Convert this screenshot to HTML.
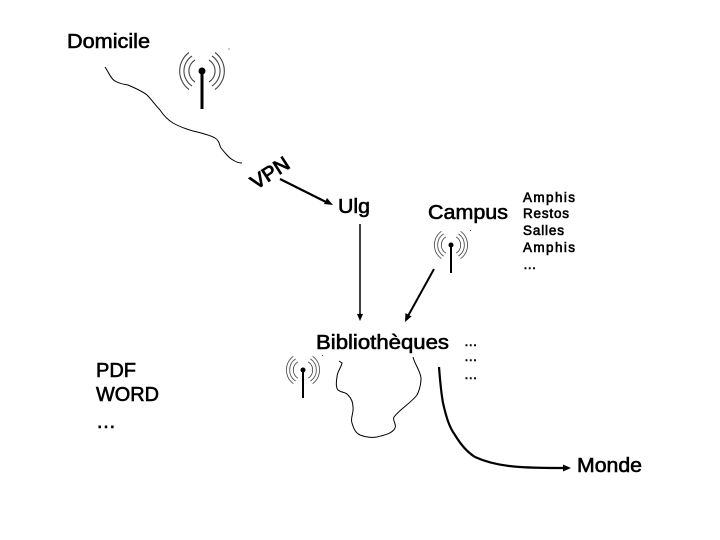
<!DOCTYPE html>
<html><head><meta charset="utf-8"><style>
html,body{margin:0;padding:0;background:#fff}
svg{display:block}
text{font-family:"Liberation Sans",Arial,sans-serif;fill:#000;stroke:#000;stroke-width:.6}
</style></head><body>
<svg width="720" height="540" viewBox="0 0 720 540" xmlns="http://www.w3.org/2000/svg">
<defs>
<g id="ant" fill="none" stroke="#444" stroke-width="1.100">
<path d="M-7-11A13 13 0 0 0-7 11M-10-15A18 18 0 0 0-10 15M-13-18.500A23 23 0 0 0-13 18.500"/>
<path d="M7-11A13 13 0 0 1 7 11M10-15A18 18 0 0 1 10 15M13-18.500A23 23 0 0 1 13 18.500"/>
</g>
</defs>
<rect width="720" height="540" fill="#fff"/>
<text x="67" y="48" font-size="20" textLength="83" lengthAdjust="spacingAndGlyphs">Domicile</text>
<use href="#ant" x="202" y="71"/>
<circle cx="202" cy="71" r="3.500"/>
<path d="M202 71V109" stroke="#000" stroke-width="3"/>
<rect x="228.500" y="48.500" width="1" height="1" fill="#333"/>
<path fill="none" stroke="#000" d="M105 67C109 73 111 79 115 81C120 84 123 84 128 85C135 88 142 91 147 95C152 100 156 106 160 110C164 116 168 120 173 123C180 127 186 129 193 131C201 133 210 135 215 138C220 141 219 145 221 148C225 153 229 158 233 160C236 162 239 163 242 163"/>
<text transform="translate(256 190) rotate(-33)" font-size="20" textLength="42" lengthAdjust="spacingAndGlyphs" style="stroke-width:.9">VPN</text>
<path d="M280 179L326 202" stroke="#000" stroke-width="2.200"/>
<path d="M333 205L324 204L327 198Z"/>
<text x="338" y="213" font-size="20" textLength="32" lengthAdjust="spacingAndGlyphs">Ulg</text>
<text x="428" y="219" font-size="20" textLength="80" lengthAdjust="spacingAndGlyphs">Campus</text>
<g font-size="13.500" style="stroke-width:.5">
<text x="523" y="202" textLength="52" lengthAdjust="spacing">Amphis</text>
<text x="523" y="218" textLength="46" lengthAdjust="spacing">Restos</text>
<text x="523" y="235" textLength="41" lengthAdjust="spacing">Salles</text>
<text x="523" y="252" textLength="52" lengthAdjust="spacing">Amphis</text>
<text x="523" y="269" textLength="14" lengthAdjust="spacing">…</text>
</g>
<g transform="translate(451 245) scale(.74)"><use href="#ant"/></g>
<circle cx="451" cy="245" r="2.500"/>
<path d="M451 245V273" stroke="#000" stroke-width="2"/>
<rect x="470" y="230" width="1" height="1" fill="#555"/>
<path d="M360 224V315" stroke="#000" stroke-width="1.500"/>
<path d="M360 321L357 314H363Z"/>
<path d="M434 269L408 316" stroke="#000" stroke-width="2"/>
<path d="M405 322L405.500 313L411.500 316.500Z"/>
<text x="316" y="349" font-size="20" textLength="133" lengthAdjust="spacingAndGlyphs">Bibliothèques</text>
<g font-size="13.500" style="stroke-width:.5">
<text x="464" y="346" textLength="14" lengthAdjust="spacing">…</text>
<text x="464" y="361" textLength="14" lengthAdjust="spacing">…</text>
<text x="464" y="379" textLength="14" lengthAdjust="spacing">…</text>
</g>
<g font-size="20">
<text x="96" y="377" textLength="40" lengthAdjust="spacingAndGlyphs">PDF</text>
<text x="96" y="401" textLength="63" lengthAdjust="spacingAndGlyphs">WORD</text>
<text x="96" y="428" textLength="20" lengthAdjust="spacing">…</text>
</g>
<g transform="translate(303 370) scale(.74)"><use href="#ant"/></g>
<circle cx="303" cy="370" r="2.500"/>
<path d="M303 370V398" stroke="#000" stroke-width="2"/>
<rect x="322" y="355" width="1" height="1" fill="#555"/>
<path fill="none" stroke="#000" d="M339 361L342 363C341 368 337 372 337 377C336 383 336 388 338 390C342 393 346 392 348 395C352 399 353 403 353 407C354 413 350 418 352 423C354 430 356 433 360 435C365 437 372 438 377 437C384 435 392 434 395 428C397 424 392 421 394 417C400 409 411 403 417 395C420 389 421 384 421 378C420 370 415 365 413 357"/>
<path fill="none" stroke="#000" stroke-width="2.200" d="M439 367C440 380 441 392 443 403C446 416 449 427 455 435C461 445 467 452 475 457C488 463 504 466 520 467C535 468 550 468 564 468"/>
<path d="M571 468L563 464.500V471.500Z"/>
<text x="577" y="472" font-size="20" textLength="65" lengthAdjust="spacingAndGlyphs">Monde</text>
</svg>
</body></html>
